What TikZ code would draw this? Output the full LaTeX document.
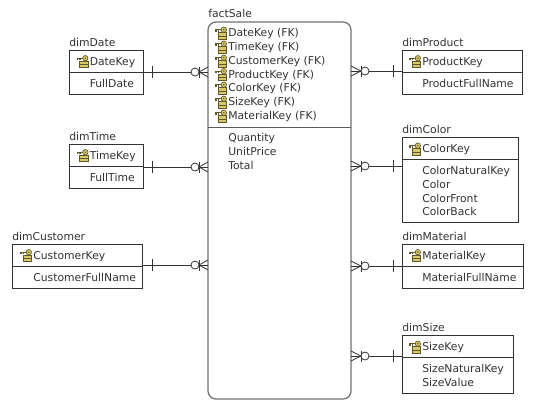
\documentclass[tikz,border=0pt]{standalone}
\usepackage{fontspec}
\setmainfont{DejaVu Sans}
\definecolor{factgray}{HTML}{707070}
\definecolor{linedark}{HTML}{333333}
\definecolor{iconyellow}{HTML}{D8C868}
\definecolor{icondark}{HTML}{5E5828}
\tikzset{
  x=0.75pt,y=-0.75pt,
  tablebox/.style={draw=linedark,line width=0.6pt,inner sep=0,outer sep=0,anchor=north west},
  facttable/.style={draw=factgray,line width=0.95pt,rounded corners=6pt,inner sep=0,outer sep=0,anchor=north west},
  txt/.style={font=\fontsize{8.1pt}{9pt}\selectfont,text=black!80,inner sep=0,anchor=west,text height=5.8pt,text depth=1.6pt},
  rel/.style={draw=linedark,line width=0.6pt},
  keyicon/.pic={
    \fill[iconyellow,draw=icondark,line width=0.5pt] (-2.5,-0.5) rectangle (6,6);
    \draw[icondark,line width=0.5pt] (-2.5,2.8) -- (6,2.8);
    \draw[icondark,line width=1pt] (1,-3.5) -- (-5.5,-3.5) (-4.5,-3.5) -- (-4.5,-1.5) (-2,-3.5) -- (-2,-1.5);
    \fill[iconyellow,draw=icondark,line width=0.5pt] (3.3,-3.5) circle (2.7);
    \fill[icondark] (3.3,-3.5) circle (0.8);
  },
  crowright/.pic={
    \draw[rel] (-10,-5) -- (0,0) -- (-10,5);
    \draw[rel] (0,-5.5) -- (0,5.5);
    \draw[rel,fill=white] (4,0) circle (4);
  },
  crowleft/.pic={
    \draw[rel] (9,-5) -- (0,0) -- (9,5);
    \draw[rel] (0,-5.5) -- (0,5.5);
    \draw[rel,fill=white] (-4,0) circle (4);
  },
  barmark/.pic={\draw[rel] (0,-6) -- (0,6);},
}
\begin{document}
\begin{tikzpicture}
\useasboundingbox (0,0) rectangle (540,405);
% tables
\node[tablebox,minimum width=55.5pt,minimum height=33pt] (dimDate) at (69,50) {};
\node[tablebox,minimum width=55.5pt,minimum height=33pt] (dimTime) at (69,144) {};
\node[tablebox,minimum width=97.5pt,minimum height=33pt] (dimCustomer) at (12,244) {};
\node[facttable,minimum width=107.25pt,minimum height=282.75pt] (factSale) at (208,22) {};
\node[tablebox,minimum width=90pt,minimum height=33pt] (dimProduct) at (402,50) {};
\node[tablebox,minimum width=87pt,minimum height=63.75pt] (dimColor) at (402,137) {};
\node[tablebox,minimum width=90.75pt,minimum height=33pt] (dimMaterial) at (402,244) {};
\node[tablebox,minimum width=83.25pt,minimum height=43.5pt] (dimSize) at (402,335) {};
% dividers
\coordinate (sepFact) at (208,127);
\draw[factgray!80!black,line width=0.7pt] (sepFact) -- (sepFact -| factSale.east);
\draw[rel] (dimDate.west) -- (dimDate.east);
\draw[rel] (dimTime.west) -- (dimTime.east);
\draw[rel] (dimCustomer.west) -- (dimCustomer.east);
\draw[rel] (dimProduct.west) -- (dimProduct.east);
\draw[rel] (dimMaterial.west) -- (dimMaterial.east);
\coordinate (sepColor) at (402,159);
\draw[rel] (sepColor) -- (sepColor -| dimColor.east);
\coordinate (sepSize) at (402,357);
\draw[rel] (sepSize) -- (sepSize -| dimSize.east);
% titles
\node[txt] (tFact) at (208,14.5) {factSale};
\node[txt] (tDate) at (69,43.5) {dimDate};
\node[txt] (tTime) at (69,137.5) {dimTime};
\node[txt] (tCustomer) at (12,237.5) {dimCustomer};
\node[txt] (tProduct) at (402,43.5) {dimProduct};
\node[txt] (tColor) at (402,130.5) {dimColor};
\node[txt] (tMaterial) at (402,237.5) {dimMaterial};
\node[txt] (tSize) at (402,328.5) {dimSize};
% fields
\node[txt] (f1) at (228,34) {DateKey (FK)};
\node[txt] (f2) at (228,48) {TimeKey (FK)};
\node[txt] (f3) at (228,62) {CustomerKey (FK)};
\node[txt] (f4) at (228,75.5) {ProductKey (FK)};
\node[txt] (f5) at (228,89) {ColorKey (FK)};
\node[txt] (f6) at (228,103) {SizeKey (FK)};
\node[txt] (f7) at (228,117) {MaterialKey (FK)};
\node[txt] (f8) at (228,139) {Quantity};
\node[txt] (f9) at (228,153) {UnitPrice};
\node[txt] (f10) at (228,167) {Total};
\node[txt] (d1) at (89.5,62.5) {DateKey};
\node[txt] (d2) at (89.5,85) {FullDate};
\node[txt] (t1) at (89.5,156.5) {TimeKey};
\node[txt] (t2) at (89.5,179) {FullTime};
\node[txt] (c1) at (33,256.5) {CustomerKey};
\node[txt] (c2) at (33,279) {CustomerFullName};
\node[txt] (p1) at (422,62.5) {ProductKey};
\node[txt] (p2) at (422,85) {ProductFullName};
\node[txt] (k1) at (422,150) {ColorKey};
\node[txt] (k2) at (422,172) {ColorNaturalKey};
\node[txt] (k3) at (422,186) {Color};
\node[txt] (k4) at (422,199.5) {ColorFront};
\node[txt] (k5) at (422,213) {ColorBack};
\node[txt] (m1) at (422,256.5) {MaterialKey};
\node[txt] (m2) at (422,279) {MaterialFullName};
\node[txt] (s1) at (422,348) {SizeKey};
\node[txt] (s2) at (422,370) {SizeNaturalKey};
\node[txt] (s3) at (422,384) {SizeValue};
% key icons
\foreach \n in {f1,f2,f3,f4,f5,f6,f7,d1,t1,c1,p1,k1,m1,s1}
  \pic[xshift=-5.6pt,yshift=0.6pt] at (\n.west) {keyicon};
% connectors
\coordinate (aDate) at (143,72);
\coordinate (aTime) at (143,167);
\coordinate (aCustomer) at (143,265);
\coordinate (aProduct) at (402,71);
\coordinate (aColor) at (402,166);
\coordinate (aMaterial) at (402,266);
\coordinate (aSize) at (402,356);
\foreach \a in {aDate,aTime,aCustomer}{
  \draw[rel] (\a) -- (\a -| factSale.west);
  \pic[xshift=6.75pt] at (\a) {barmark};
  \pic[xshift=-6.75pt] at (\a -| factSale.west) {crowleft};
}
\foreach \a in {aProduct,aColor,aMaterial,aSize}{
  \draw[rel] (\a -| factSale.east) -- (\a);
  \pic[xshift=-6.75pt] at (\a) {barmark};
  \pic[xshift=7.5pt] at (\a -| factSale.east) {crowright};
}
\end{tikzpicture}
\end{document}
